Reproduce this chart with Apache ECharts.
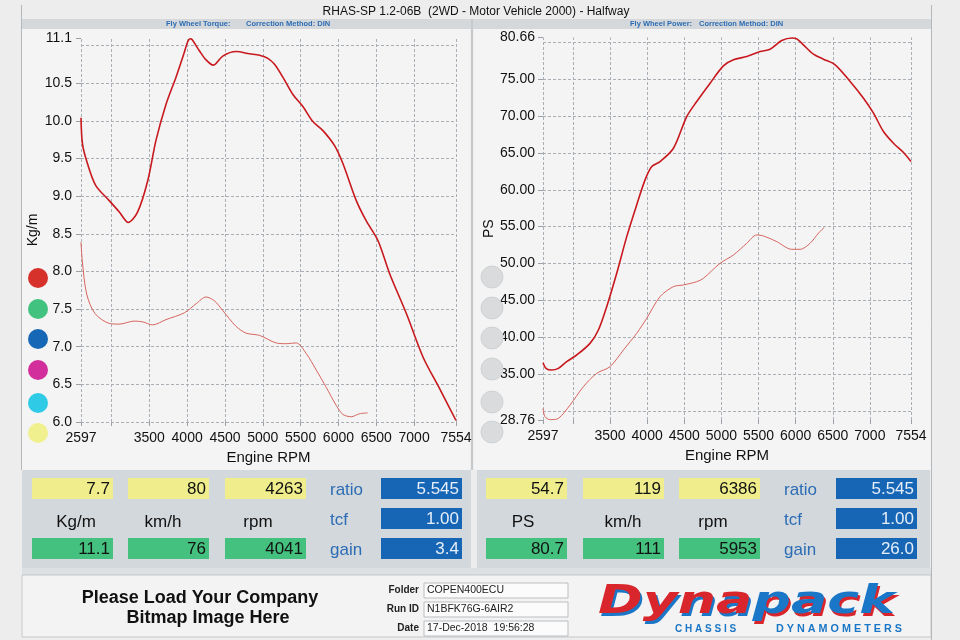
<!DOCTYPE html>
<html><head><meta charset="utf-8">
<script src="https://cdn.jsdelivr.net/npm/echarts@6/dist/echarts.min.js"></script>
<style>html,body{margin:0;padding:0;background:#ececec;}#c{width:960px;height:640px;}</style>
</head><body><div id="c"></div>
<script>
// ---------- data ----------
const torqueMainRpm = [2597,2617,2683,2793,2970,3103,3222,3346,3478,3588,3721,3853,3963,4007,4041,4065,4162,4250,4347,4471,4647,4824,4957,5067,5155,5265,5398,5530,5662,5795,5949,6060,6236,6368,6522,6677,6898,7119,7339,7554];
const torqueMainVal = [10.04,9.69,9.43,9.14,8.94,8.79,8.65,8.79,9.20,9.74,10.22,10.58,10.91,11.05,11.09,11.08,10.93,10.81,10.74,10.86,10.92,10.89,10.87,10.83,10.75,10.58,10.35,10.19,9.99,9.87,9.67,9.43,8.94,8.67,8.41,7.97,7.44,6.86,6.44,6.02];
const torqueRefRpm = [2597,2614,2672,2782,2970,3103,3301,3412,3544,3721,3963,4118,4250,4360,4471,4647,4780,4957,5177,5310,5442,5574,5707,5839,5971,6060,6170,6280,6386];
const torqueRefVal = [8.39,8.14,7.70,7.44,7.31,7.30,7.34,7.33,7.29,7.36,7.45,7.57,7.66,7.61,7.48,7.27,7.18,7.15,7.05,7.04,7.05,6.91,6.69,6.46,6.22,6.10,6.07,6.11,6.12];
const powerMainRpm = [2597,2638,2714,2804,2916,3051,3230,3343,3455,3590,3725,3859,3972,4062,4174,4354,4533,4668,4848,5027,5162,5342,5521,5656,5813,5953,6016,6105,6240,6374,6532,6734,6914,7049,7183,7318,7453,7554];
const powerMainVal = [36.54,35.77,35.54,35.77,36.67,37.58,39.16,40.97,44.14,48.67,53.64,57.94,61.34,63.15,63.82,65.63,69.93,71.97,74.46,76.81,77.63,78.08,78.76,79.07,80.25,80.60,80.48,79.66,78.40,77.72,76.95,74.69,72.42,70.39,67.90,66.31,65.05,63.82];
const powerRefRpm = [2597,2624,2691,2804,2961,3141,3320,3500,3680,3859,3994,4174,4354,4488,4668,4758,4982,5162,5342,5476,5566,5746,5948,6060,6195,6307,6386];
const powerRefVal = [30.34,29.21,28.80,28.98,30.79,33.28,35.09,36.00,38.26,40.52,42.56,45.50,46.86,47.08,47.53,47.99,50.02,51.15,52.74,53.87,53.73,52.96,51.92,51.92,52.74,54.10,54.90];

const xTickLabels = [2597,3500,4000,4500,5000,5500,6000,6500,7000,7554];
const xGridValues = [2597,3000,3500,4000,4500,5000,5500,6000,6500,7000,7554];
const torqueTickLabels = [6.0,6.5,7.0,7.5,8.0,8.5,9.0,9.5,10.0,10.5,11.1];
const torqueGridValues = [6.0,6.5,7.0,7.5,8.0,8.5,9.0,9.5,10.0,10.5,11.0];
const powerTickLabels = [28.76,35,40,45,50,55,60,65,70,75,80.66];
const powerGridValues = [30,35,40,45,50,55,60,65,70,75,80];

const titleText = 'RHAS-SP 1.2-06B  (2WD - Motor Vehicle 2000) - Halfway';
const leftCursor = ['7.7','80','4263'];
const leftPeak = ['11.1','76','4041'];
const leftUnits = ['Kg/m','km/h','rpm'];
const leftFactors = ['5.545','1.00','3.4'];
const rightCursor = ['54.7','119','6386'];
const rightPeak = ['80.7','111','5953'];
const rightUnits = ['PS','km/h','rpm'];
const rightFactors = ['5.545','1.00','26.0'];
const factorNames = ['ratio','tcf','gain'];
const footerFields = ['Folder','Run ID','Date'];
const footerValues = ['COPEN400ECU','N1BFK76G-6AIR2','17-Dec-2018  19:56:28'];
const runColors = ['#d6312a','#42c27f','#1668b6','#d22e9c','#2fcbe6','#f1f08e'];

// ---------- helpers ----------
const pairs = (a,b) => a.map((v,i)=>[v,b[i]]);
const FONT = '"Liberation Sans", Arial, sans-serif';
const g = [];
function rect(x,y,w,h,fill,stroke,z){g.push({type:'rect',silent:true,z:(z==null?-5:z),shape:{x:x,y:y,width:w,height:h},style:{fill:fill,stroke:stroke||null,lineWidth:stroke?1:0}});}
function line(x1,y1,x2,y2,stroke,w,z){g.push({type:'line',silent:true,z:(z==null?-4:z),shape:{x1:x1,y1:y1,x2:x2,y2:y2},style:{stroke:stroke,lineWidth:w||1}});}
function txt(x,y,t,size,fill,align,weight,z,extra){g.push(Object.assign({type:'text',silent:true,z:(z==null?1:z),x:x,y:y,style:{text:t,font:(weight||'normal')+' '+size+'px '+FONT,fill:fill,textAlign:align||'left',textVerticalAlign:'middle'}},extra||{}));}
function dot(cx,cy,r,fill,stroke){g.push({type:'circle',silent:true,z:1,shape:{cx:cx,cy:cy,r:r},style:{fill:fill,stroke:stroke||null,lineWidth:stroke?1:0}});}

// page / panels
rect(0,0,960,640,'#ededed',null,-10);
rect(22,19,909,10,'#d5d8da');
rect(22,29,448,441,'#f4f4f4');
rect(474,29,457,441,'#f4f4f4');
line(21.5,5,21.5,470,'#b4b8bb',1);
line(931.5,5,931.5,640,'#b4b8bb',1);
line(472,19,472,470,'#c6cacd',2);
// readout panels
rect(22,470,449,98,'#d3d8dc');
rect(477,470,453,98,'#d3d8dc');
rect(22,568,909,7,'#dde0e2');
rect(22,575,909,62,'#f3f3f3','#c3c7ca');

// title & header captions
txt(476,12,titleText,12,'#111','center');
txt(166,24,'Fly Wheel Torque:',7.5,'#2b6cb4','left','bold');
txt(246,24,'Correction Method: DIN',7.5,'#2b6cb4','left','bold');
txt(630,24,'Fly Wheel Power:',7.5,'#2b6cb4','left','bold');
txt(699,24,'Correction Method: DIN',7.5,'#2b6cb4','left','bold');

// run colour dots
const dotY = [278,309,339,370,403,433];
dotY.forEach((y,i)=>{dot(38,y,10,runColors[i]); dot(492,y-1,11,'#d9dbdd','#cfd2d4');});

// readouts
function readouts(xs, fx, bx, labX, cur, peak, units, facs){
  xs.forEach((x,i)=>{
    rect(x,478,81,21,'#f0ee8c',null,0);
    rect(x,538,81,21,'#45c17f',null,0);
    txt(x+78,489,cur[i],17,'#111','right');
    txt(x+78,549,peak[i],17,'#111','right');
    txt(labX[i],522,units[i],17,'#111','center');
  });
  [478,508,538].forEach((y,i)=>{
    rect(bx,y,81,21,'#1766b6',null,0);
    txt(bx+78,y+11,facs[i],17,'#e6eef8','right');
    txt(fx,y+12,factorNames[i],17,'#2b6cb4','left');
  });
}
readouts([32,128,225],330,381,[76,163,258],leftCursor,leftPeak,leftUnits,leftFactors);
readouts([486,583,679],784,836,[523,623,713],rightCursor,rightPeak,rightUnits,rightFactors);

// footer
txt(200,598,'Please Load Your Company',18,'#111','center','bold');
txt(208,618,'Bitmap Image Here',18,'#111','center','bold');
[590,609,628].forEach((y,i)=>{
  txt(419,y,footerFields[i],10,'#222','right','bold');
  rect(424,y-7,144,15,'#fbfbfb','#b9bdc0',0);
  txt(427,y,footerValues[i],10.5,'#222','left');
});
// logo
const LF = 'italic bold 39px "DejaVu Sans", sans-serif';
const logoRich = {a:{fill:'#d9262c',font:LF},b:{fill:'#1a76c6',font:LF}};
const logoShadow = {a:{fill:'#1a76c6',font:LF},b:{fill:'#d9262c',font:LF}};
g.push({type:'text',silent:true,z:1,x:600,y:606,scaleX:1.38,style:{text:'{a|Dyna}{b|pack}',rich:logoShadow,textVerticalAlign:'middle'}});
g.push({type:'text',silent:true,z:2,x:598,y:603,scaleX:1.38,style:{text:'{a|Dyna}{b|pack}',rich:logoRich,textVerticalAlign:'middle'}});
txt(675,629,'C H A S S I S',10,'#1a76c6','left','bold');
txt(776,629,'D Y N A M O M E T E R S',10,'#1a76c6','left','bold',1,{scaleX:1.08});

// ---------- chart ----------
const gridLine = {color:'#a9afb4',type:[3,2],width:1};
function axisX(idx){
  return {type:'value',gridIndex:idx,min:2597,max:7554,name:'Engine RPM',nameLocation:'middle',nameGap:27,
    nameTextStyle:{fontSize:15,color:'#111',fontFamily:'Liberation Sans'},
    axisLine:{show:false},splitLine:{show:false},
    axisTick:{show:true,customValues:xGridValues,length:4,lineStyle:{color:'#9aa0a5'}},
    axisLabel:{customValues:xTickLabels,fontSize:14,color:'#111',fontFamily:'Liberation Sans',margin:9,formatter:v=>String(Math.round(v))}};
}
function axisY(idx,min,max,labels,name,gap,dec,margin){
  return {type:'value',gridIndex:idx,min:min,max:max,name:name,nameLocation:'middle',nameGap:gap,nameRotate:90,
    nameTextStyle:{fontSize:14,color:'#111',fontFamily:'Liberation Sans'},
    axisLine:{show:false},splitLine:{show:false},
    axisTick:{show:true,customValues:labels,length:5,lineStyle:{color:'#9aa0a5'}},
    axisLabel:{customValues:labels,fontSize:14,color:'#111',fontFamily:'Liberation Sans',margin:margin,formatter:v=>v.toFixed(dec)}};
}
function gridMarks(yVals){
  return {silent:true,symbol:['none','none'],label:{show:false},lineStyle:gridLine,animation:false,
    data:[].concat(yVals.map(v=>({yAxis:v})),xGridValues.map(v=>({xAxis:v})))};
}
const option = {
  animation:false,
  graphic:{elements:g},
  grid:[{left:81,top:38,width:375,height:384},{left:543,top:37.5,width:368,height:382.5}],
  xAxis:[axisX(0),axisX(1)],
  yAxis:[axisY(0,6.0,11.1,torqueTickLabels,'Kg/m',41,1,9),axisY(1,28.76,80.66,powerTickLabels,'PS',47,2,8)],
  series:[
    {type:'line',xAxisIndex:0,yAxisIndex:0,z:10,data:pairs(torqueRefRpm,torqueRefVal),smooth:0.3,showSymbol:false,lineStyle:{color:'#d7645e',width:1},markLine:gridMarks(torqueGridValues)},
    {type:'line',xAxisIndex:0,yAxisIndex:0,z:11,data:pairs(torqueMainRpm,torqueMainVal),smooth:0.3,showSymbol:false,lineStyle:{color:'#c8191e',width:1.6}},
    {type:'line',xAxisIndex:1,yAxisIndex:1,z:10,data:pairs(powerRefRpm,powerRefVal),smooth:0.3,showSymbol:false,lineStyle:{color:'#d7645e',width:1},markLine:gridMarks(powerGridValues)},
    {type:'line',xAxisIndex:1,yAxisIndex:1,z:11,data:pairs(powerMainRpm,powerMainVal),smooth:0.3,showSymbol:false,lineStyle:{color:'#c8191e',width:1.6}}
  ]
};
const chart = echarts.init(document.getElementById('c'),null,{renderer:'canvas'});
chart.setOption(option);
</script></body></html>
